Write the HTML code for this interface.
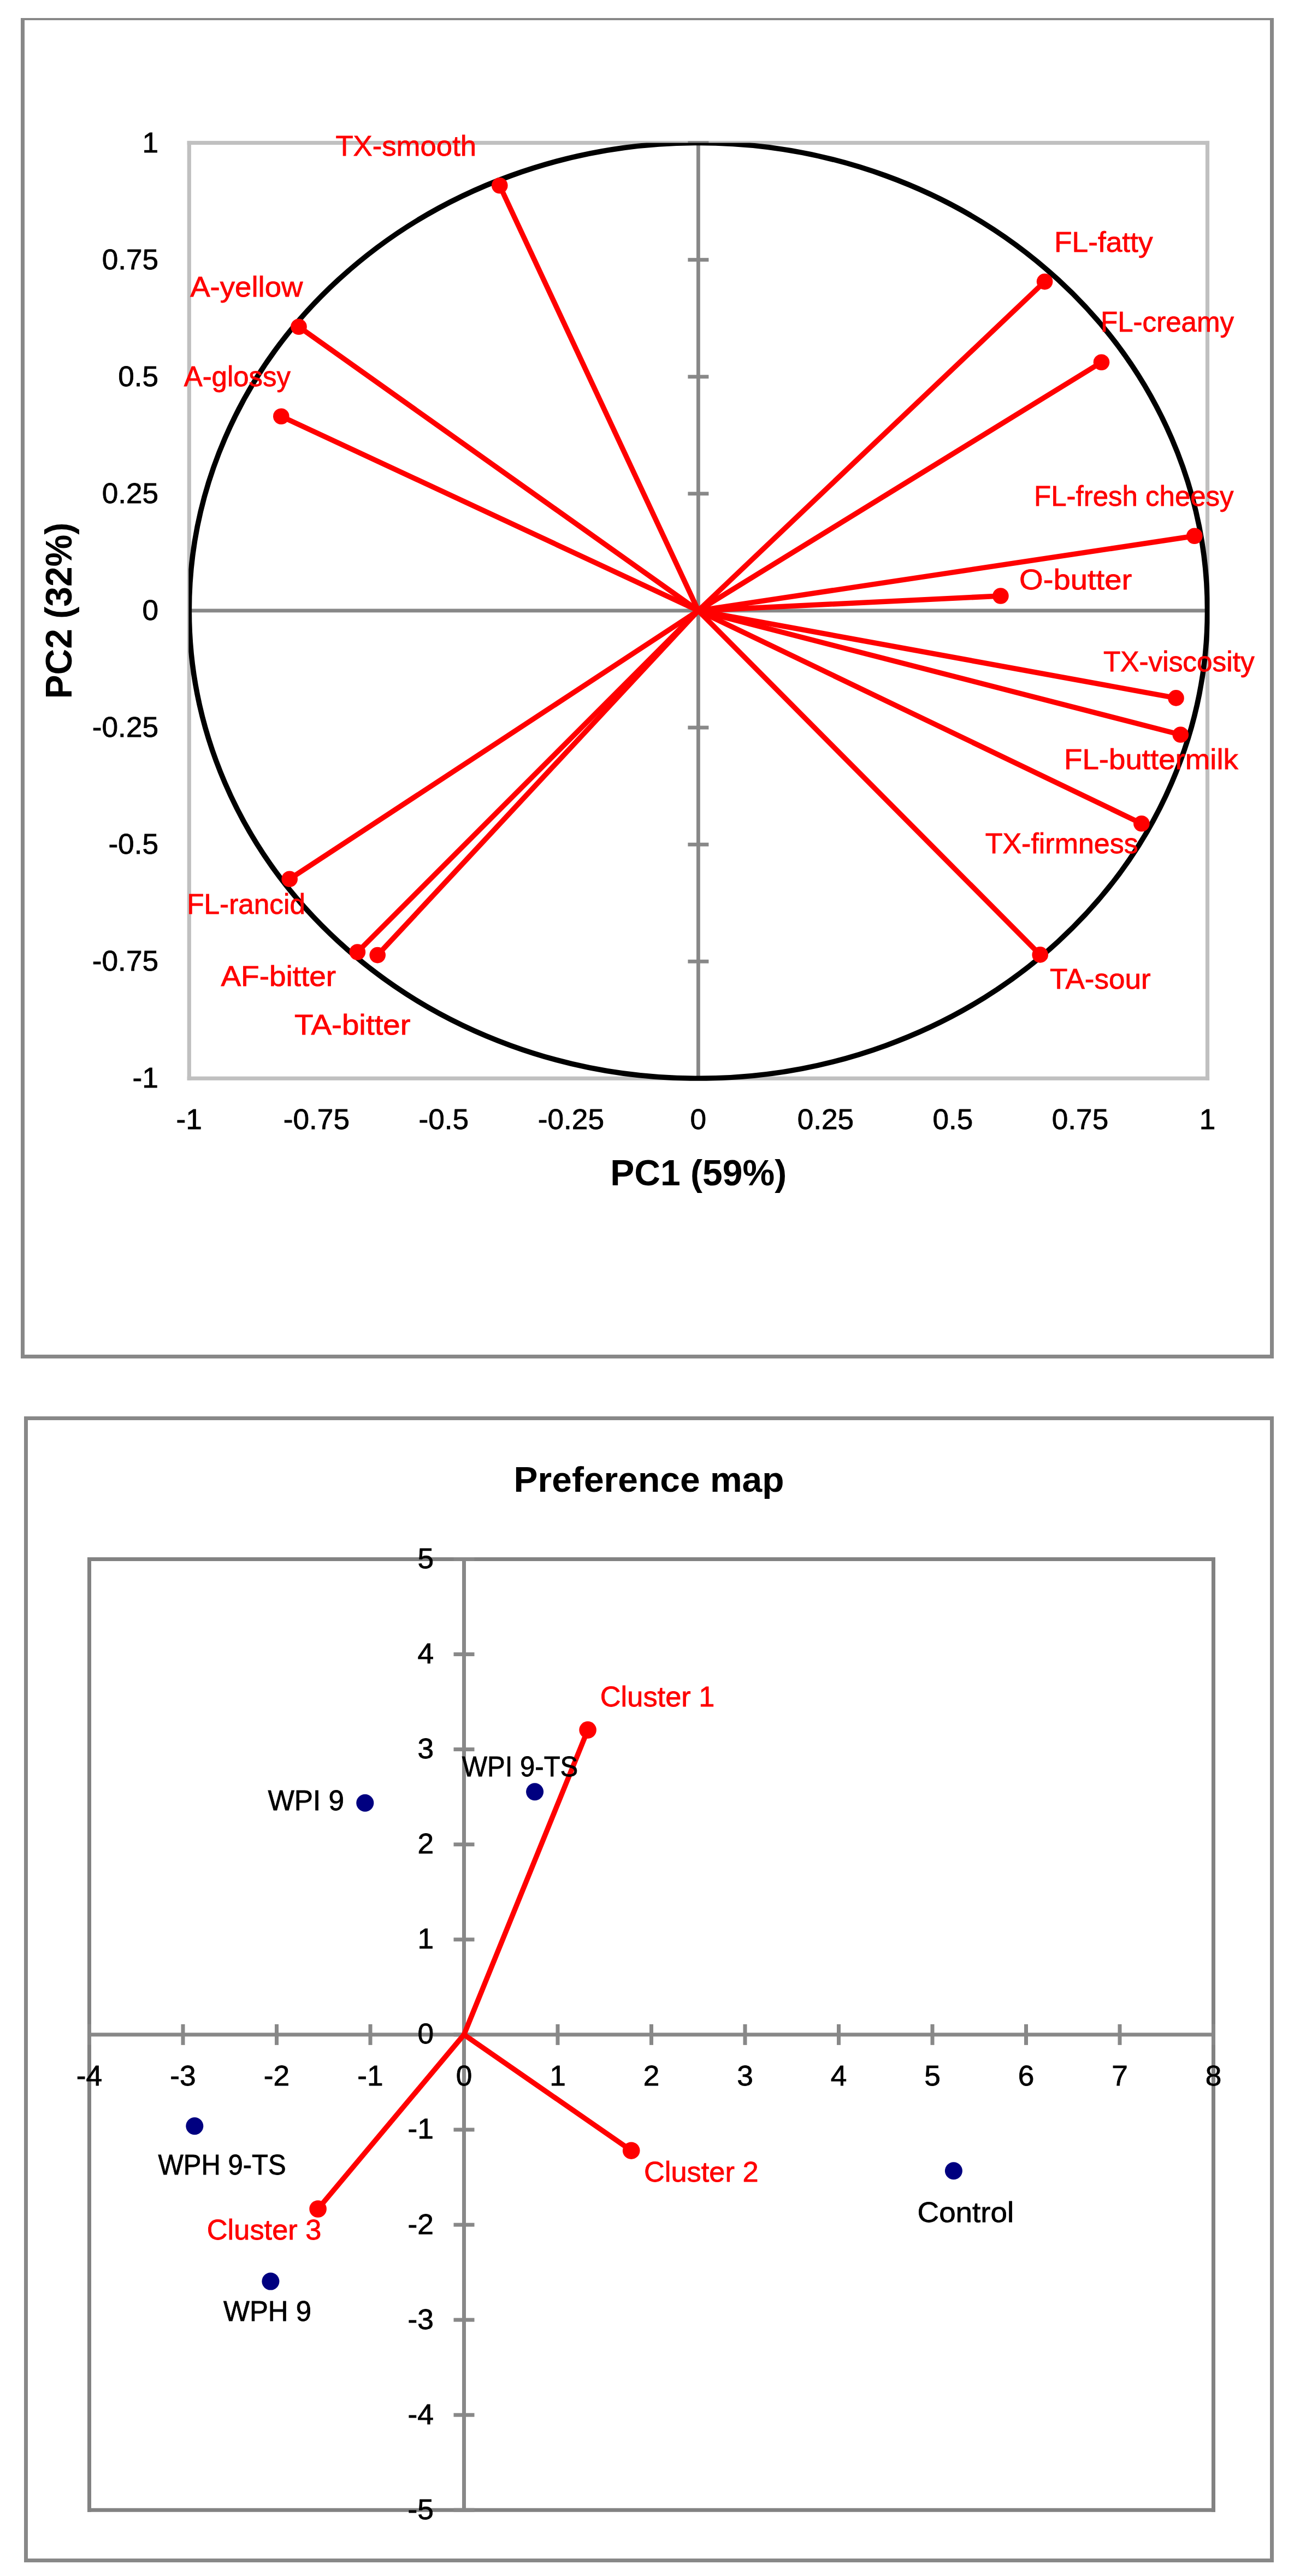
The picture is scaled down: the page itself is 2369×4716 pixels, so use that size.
<!DOCTYPE html>
<html lang="en"><head><meta charset="utf-8"><title>PCA loadings and preference map</title>
<style>html,body{margin:0;padding:0;background:#fff}svg{display:block}text{font-family:"Liberation Sans",sans-serif}.t{font-size:52px;fill:#000;stroke:#000;stroke-width:.8px}.r{font-size:52px;fill:#f00;stroke:#f00;stroke-width:.8px}.b{font-weight:bold;fill:#000}</style></head><body>
<svg width="2369" height="4716" viewBox="0 0 2369 4716">
<rect x="0" y="0" width="2369" height="4716" fill="#fff"/>
<rect x="38.00" y="33.00" width="2294.00" height="4.00" fill="#888888"/>
<rect x="38.00" y="2480.00" width="2294.00" height="7.00" fill="#888888"/>
<rect x="38.00" y="33.00" width="7.00" height="2454.00" fill="#888888"/>
<rect x="2325.00" y="33.00" width="7.00" height="2454.00" fill="#888888"/>
<rect x="342.70" y="257.90" width="1871.40" height="7.20" fill="#c0c0c0"/>
<rect x="342.70" y="1970.70" width="1871.40" height="7.20" fill="#c0c0c0"/>
<rect x="342.70" y="257.90" width="7.20" height="1720.00" fill="#c0c0c0"/>
<rect x="2206.90" y="257.90" width="7.20" height="1720.00" fill="#c0c0c0"/>
<rect x="346.30" y="1114.50" width="1864.20" height="6.80" fill="#888888"/>
<rect x="1275.00" y="261.50" width="6.80" height="1712.80" fill="#888888"/>
<rect x="1259.40" y="258.10" width="38.00" height="6.80" fill="#888888"/>
<rect x="1259.40" y="472.20" width="38.00" height="6.80" fill="#888888"/>
<rect x="1259.40" y="686.30" width="38.00" height="6.80" fill="#888888"/>
<rect x="1259.40" y="900.40" width="38.00" height="6.80" fill="#888888"/>
<rect x="1259.40" y="1328.60" width="38.00" height="6.80" fill="#888888"/>
<rect x="1259.40" y="1542.70" width="38.00" height="6.80" fill="#888888"/>
<rect x="1259.40" y="1756.80" width="38.00" height="6.80" fill="#888888"/>
<rect x="1259.40" y="1970.90" width="38.00" height="6.80" fill="#888888"/>
<clipPath id="c1"><rect x="345.3" y="261.5" width="1869.2" height="1717.3"/></clipPath>
<ellipse cx="1278.4" cy="1117.9" rx="932.1" ry="856.4" fill="none" stroke="#000" stroke-width="9.6" clip-path="url(#c1)"/>
<g stroke="#f00" stroke-width="9.5" stroke-linecap="round">
<line x1="1278.4" y1="1117.9" x2="914.8" y2="339.7"/>
<line x1="1278.4" y1="1117.9" x2="547.0" y2="598.2"/>
<line x1="1278.4" y1="1117.9" x2="514.8" y2="762.2"/>
<line x1="1278.4" y1="1117.9" x2="1912.6" y2="515.6"/>
<line x1="1278.4" y1="1117.9" x2="2016.5" y2="663.2"/>
<line x1="1278.4" y1="1117.9" x2="2186.8" y2="981.3"/>
<line x1="1278.4" y1="1117.9" x2="1831.9" y2="1091.0"/>
<line x1="1278.4" y1="1117.9" x2="2153.0" y2="1277.9"/>
<line x1="1278.4" y1="1117.9" x2="2161.3" y2="1345.0"/>
<line x1="1278.4" y1="1117.9" x2="2089.9" y2="1507.7"/>
<line x1="1278.4" y1="1117.9" x2="1904.2" y2="1747.9"/>
<line x1="1278.4" y1="1117.9" x2="530.2" y2="1609.3"/>
<line x1="1278.4" y1="1117.9" x2="654.4" y2="1743.0"/>
<line x1="1278.4" y1="1117.9" x2="691.2" y2="1748.6"/>
</g><g fill="#f00">
<circle cx="914.8" cy="339.7" r="14.8"/>
<circle cx="547.0" cy="598.2" r="14.8"/>
<circle cx="514.8" cy="762.2" r="14.8"/>
<circle cx="1912.6" cy="515.6" r="14.8"/>
<circle cx="2016.5" cy="663.2" r="14.8"/>
<circle cx="2186.8" cy="981.3" r="14.8"/>
<circle cx="1831.9" cy="1091.0" r="14.8"/>
<circle cx="2153.0" cy="1277.9" r="14.8"/>
<circle cx="2161.3" cy="1345.0" r="14.8"/>
<circle cx="2089.9" cy="1507.7" r="14.8"/>
<circle cx="1904.2" cy="1747.9" r="14.8"/>
<circle cx="530.2" cy="1609.3" r="14.8"/>
<circle cx="654.4" cy="1743.0" r="14.8"/>
<circle cx="691.2" cy="1748.6" r="14.8"/>
</g>
<text class="t" x="260.5" y="278.5" textLength="29.6" lengthAdjust="spacingAndGlyphs">1</text>
<text class="t" x="2195.7" y="2067.2" textLength="29.6" lengthAdjust="spacingAndGlyphs">1</text>
<text class="t" x="186.7" y="492.6" textLength="103.4" lengthAdjust="spacingAndGlyphs">0.75</text>
<text class="t" x="1925.8" y="2067.2" textLength="103.4" lengthAdjust="spacingAndGlyphs">0.75</text>
<text class="t" x="216.2" y="706.7" textLength="73.8" lengthAdjust="spacingAndGlyphs">0.5</text>
<text class="t" x="1707.5" y="2067.2" textLength="73.8" lengthAdjust="spacingAndGlyphs">0.5</text>
<text class="t" x="186.7" y="920.8" textLength="103.4" lengthAdjust="spacingAndGlyphs">0.25</text>
<text class="t" x="1459.7" y="2067.2" textLength="103.4" lengthAdjust="spacingAndGlyphs">0.25</text>
<text class="t" x="260.5" y="1134.9" textLength="29.6" lengthAdjust="spacingAndGlyphs">0</text>
<text class="t" x="1263.6" y="2067.2" textLength="29.6" lengthAdjust="spacingAndGlyphs">0</text>
<text class="t" x="168.8" y="1349.0" textLength="121.3" lengthAdjust="spacingAndGlyphs">-0.25</text>
<text class="t" x="984.7" y="2067.2" textLength="121.3" lengthAdjust="spacingAndGlyphs">-0.25</text>
<text class="t" x="198.4" y="1563.1" textLength="91.7" lengthAdjust="spacingAndGlyphs">-0.5</text>
<text class="t" x="766.5" y="2067.2" textLength="91.7" lengthAdjust="spacingAndGlyphs">-0.5</text>
<text class="t" x="168.8" y="1777.2" textLength="121.3" lengthAdjust="spacingAndGlyphs">-0.75</text>
<text class="t" x="518.7" y="2067.2" textLength="121.3" lengthAdjust="spacingAndGlyphs">-0.75</text>
<text class="t" x="242.6" y="1991.3" textLength="47.4" lengthAdjust="spacingAndGlyphs">-1</text>
<text class="t" x="322.6" y="2067.2" textLength="47.4" lengthAdjust="spacingAndGlyphs">-1</text>
<text class="b" x="1117.2" y="2169.6" font-size="66.67" textLength="323.2" lengthAdjust="spacingAndGlyphs">PC1 (59%)</text>
<text class="b" transform="translate(131,1279.4) rotate(-90)" font-size="69" textLength="322.6" lengthAdjust="spacingAndGlyphs">PC2 (32%)</text>
<text class="r" x="614.4" y="284.9" textLength="257.7" lengthAdjust="spacingAndGlyphs">TX-smooth</text>
<text class="r" x="348.2" y="542.9" textLength="206.3" lengthAdjust="spacingAndGlyphs">A-yellow</text>
<text class="r" x="336.7" y="706.7" textLength="195.2" lengthAdjust="spacingAndGlyphs">A-glossy</text>
<text class="r" x="1930.1" y="460.6" textLength="180.4" lengthAdjust="spacingAndGlyphs">FL-fatty</text>
<text class="r" x="2015.0" y="606.7" textLength="244.1" lengthAdjust="spacingAndGlyphs">FL-creamy</text>
<text class="r" x="1893.1" y="925.7" textLength="365.5" lengthAdjust="spacingAndGlyphs">FL-fresh cheesy</text>
<text class="r" x="1866.0" y="1079.4" textLength="206.2" lengthAdjust="spacingAndGlyphs">O-butter</text>
<text class="r" x="2019.9" y="1228.7" textLength="276.7" lengthAdjust="spacingAndGlyphs">TX-viscosity</text>
<text class="r" x="1948.1" y="1408.3" textLength="318.8" lengthAdjust="spacingAndGlyphs">FL-buttermilk</text>
<text class="r" x="1803.7" y="1562.4" textLength="280.0" lengthAdjust="spacingAndGlyphs">TX-firmness</text>
<text class="r" x="1922.0" y="1809.9" textLength="184.6" lengthAdjust="spacingAndGlyphs">TA-sour</text>
<text class="r" x="342.2" y="1673.0" textLength="216.8" lengthAdjust="spacingAndGlyphs">FL-rancid</text>
<text class="r" x="404.4" y="1805.4" textLength="210.8" lengthAdjust="spacingAndGlyphs">AF-bitter</text>
<text class="r" x="539.1" y="1893.7" textLength="212.5" lengthAdjust="spacingAndGlyphs">TA-bitter</text>
<rect x="44.00" y="2593.00" width="2288.00" height="7.00" fill="#888888"/>
<rect x="44.00" y="4684.00" width="2288.00" height="7.00" fill="#888888"/>
<rect x="44.00" y="2593.00" width="7.00" height="2098.00" fill="#888888"/>
<rect x="2325.00" y="2593.00" width="7.00" height="2098.00" fill="#888888"/>
<rect x="160.00" y="2851.00" width="2065.00" height="7.00" fill="#828282"/>
<rect x="160.00" y="4591.75" width="2065.00" height="7.00" fill="#828282"/>
<rect x="160.00" y="2851.00" width="7.00" height="1747.75" fill="#828282"/>
<rect x="2218.00" y="2851.00" width="7.00" height="1747.75" fill="#828282"/>
<rect x="163.50" y="3721.38" width="2058.00" height="7.00" fill="#888888"/>
<rect x="846.00" y="2854.50" width="7.00" height="1740.75" fill="#888888"/>
<rect x="160.00" y="3705.88" width="7.00" height="38.00" fill="#888888"/>
<rect x="331.50" y="3705.88" width="7.00" height="38.00" fill="#888888"/>
<rect x="503.00" y="3705.88" width="7.00" height="38.00" fill="#888888"/>
<rect x="674.50" y="3705.88" width="7.00" height="38.00" fill="#888888"/>
<rect x="846.00" y="3705.88" width="7.00" height="38.00" fill="#888888"/>
<rect x="1017.50" y="3705.88" width="7.00" height="38.00" fill="#888888"/>
<rect x="1189.00" y="3705.88" width="7.00" height="38.00" fill="#888888"/>
<rect x="1360.50" y="3705.88" width="7.00" height="38.00" fill="#888888"/>
<rect x="1532.00" y="3705.88" width="7.00" height="38.00" fill="#888888"/>
<rect x="1703.50" y="3705.88" width="7.00" height="38.00" fill="#888888"/>
<rect x="1875.00" y="3705.88" width="7.00" height="38.00" fill="#888888"/>
<rect x="2046.50" y="3705.88" width="7.00" height="38.00" fill="#888888"/>
<rect x="2218.00" y="3705.88" width="7.00" height="38.00" fill="#888888"/>
<rect x="830.50" y="4591.75" width="38.00" height="7.00" fill="#888888"/>
<rect x="830.50" y="4417.68" width="38.00" height="7.00" fill="#888888"/>
<rect x="830.50" y="4243.60" width="38.00" height="7.00" fill="#888888"/>
<rect x="830.50" y="4069.53" width="38.00" height="7.00" fill="#888888"/>
<rect x="830.50" y="3895.45" width="38.00" height="7.00" fill="#888888"/>
<rect x="830.50" y="3721.38" width="38.00" height="7.00" fill="#888888"/>
<rect x="830.50" y="3547.30" width="38.00" height="7.00" fill="#888888"/>
<rect x="830.50" y="3373.22" width="38.00" height="7.00" fill="#888888"/>
<rect x="830.50" y="3199.15" width="38.00" height="7.00" fill="#888888"/>
<rect x="830.50" y="3025.07" width="38.00" height="7.00" fill="#888888"/>
<rect x="830.50" y="2851.00" width="38.00" height="7.00" fill="#888888"/>
<text class="b" x="940.6" y="2731.4" font-size="65" textLength="494.9" lengthAdjust="spacingAndGlyphs">Preference map</text>
<g stroke="#f00" stroke-width="9.5" stroke-linecap="round">
<line x1="849.5" y1="3724.9" x2="1076.1" y2="3167.1"/>
<line x1="849.5" y1="3724.9" x2="1155.7" y2="3937.2"/>
<line x1="849.5" y1="3724.9" x2="582.1" y2="4044.0"/>
</g><g fill="#f00">
<circle cx="1076.1" cy="3167.1" r="15.8"/>
<circle cx="1155.7" cy="3937.2" r="15.8"/>
<circle cx="582.1" cy="4044.0" r="15.8"/>
</g><g fill="#000080">
<circle cx="356.3" cy="3892.3" r="16"/>
<circle cx="495.4" cy="4176.6" r="16"/>
<circle cx="668.3" cy="3300.7" r="16"/>
<circle cx="979.1" cy="3280.3" r="16"/>
<circle cx="1745.9" cy="3974.3" r="16"/>
</g>
<text class="t" x="139.8" y="3817.8" textLength="47.4" lengthAdjust="spacingAndGlyphs">-4</text>
<text class="t" x="311.3" y="3817.8" textLength="47.4" lengthAdjust="spacingAndGlyphs">-3</text>
<text class="t" x="482.8" y="3817.8" textLength="47.4" lengthAdjust="spacingAndGlyphs">-2</text>
<text class="t" x="654.3" y="3817.8" textLength="47.4" lengthAdjust="spacingAndGlyphs">-1</text>
<text class="t" x="834.7" y="3817.8" textLength="29.6" lengthAdjust="spacingAndGlyphs">0</text>
<text class="t" x="1006.2" y="3817.8" textLength="29.6" lengthAdjust="spacingAndGlyphs">1</text>
<text class="t" x="1177.7" y="3817.8" textLength="29.6" lengthAdjust="spacingAndGlyphs">2</text>
<text class="t" x="1349.2" y="3817.8" textLength="29.6" lengthAdjust="spacingAndGlyphs">3</text>
<text class="t" x="1520.7" y="3817.8" textLength="29.6" lengthAdjust="spacingAndGlyphs">4</text>
<text class="t" x="1692.2" y="3817.8" textLength="29.6" lengthAdjust="spacingAndGlyphs">5</text>
<text class="t" x="1863.7" y="3817.8" textLength="29.6" lengthAdjust="spacingAndGlyphs">6</text>
<text class="t" x="2035.2" y="3817.8" textLength="29.6" lengthAdjust="spacingAndGlyphs">7</text>
<text class="t" x="2206.7" y="3817.8" textLength="29.6" lengthAdjust="spacingAndGlyphs">8</text>
<text class="t" x="746.6" y="4611.8" textLength="47.4" lengthAdjust="spacingAndGlyphs">-5</text>
<text class="t" x="746.6" y="4437.7" textLength="47.4" lengthAdjust="spacingAndGlyphs">-4</text>
<text class="t" x="746.6" y="4263.6" textLength="47.4" lengthAdjust="spacingAndGlyphs">-3</text>
<text class="t" x="746.6" y="4089.5" textLength="47.4" lengthAdjust="spacingAndGlyphs">-2</text>
<text class="t" x="746.6" y="3915.4" textLength="47.4" lengthAdjust="spacingAndGlyphs">-1</text>
<text class="t" x="764.5" y="3741.4" textLength="29.6" lengthAdjust="spacingAndGlyphs">0</text>
<text class="t" x="764.5" y="3567.3" textLength="29.6" lengthAdjust="spacingAndGlyphs">1</text>
<text class="t" x="764.5" y="3393.2" textLength="29.6" lengthAdjust="spacingAndGlyphs">2</text>
<text class="t" x="764.5" y="3219.2" textLength="29.6" lengthAdjust="spacingAndGlyphs">3</text>
<text class="t" x="764.5" y="3045.1" textLength="29.6" lengthAdjust="spacingAndGlyphs">4</text>
<text class="t" x="764.5" y="2871.0" textLength="29.6" lengthAdjust="spacingAndGlyphs">5</text>
<text class="t" x="289.5" y="3980.9" textLength="234.2" lengthAdjust="spacingAndGlyphs">WPH 9-TS</text>
<text class="r" x="378.8" y="4100.1" textLength="209.6" lengthAdjust="spacingAndGlyphs">Cluster 3</text>
<text class="t" x="408.9" y="4248.9" textLength="161.1" lengthAdjust="spacingAndGlyphs">WPH 9</text>
<text class="t" x="490.4" y="3313.7" textLength="139.5" lengthAdjust="spacingAndGlyphs">WPI 9</text>
<text class="t" x="845.8" y="3252.4" textLength="212.5" lengthAdjust="spacingAndGlyphs">WPI 9-TS</text>
<text class="r" x="1098.8" y="3123.7" textLength="209.6" lengthAdjust="spacingAndGlyphs">Cluster 1</text>
<text class="r" x="1179.0" y="3993.8" textLength="209.6" lengthAdjust="spacingAndGlyphs">Cluster 2</text>
<text class="t" x="1679.6" y="4067.8" textLength="176.5" lengthAdjust="spacingAndGlyphs">Control</text>
</svg></body></html>
